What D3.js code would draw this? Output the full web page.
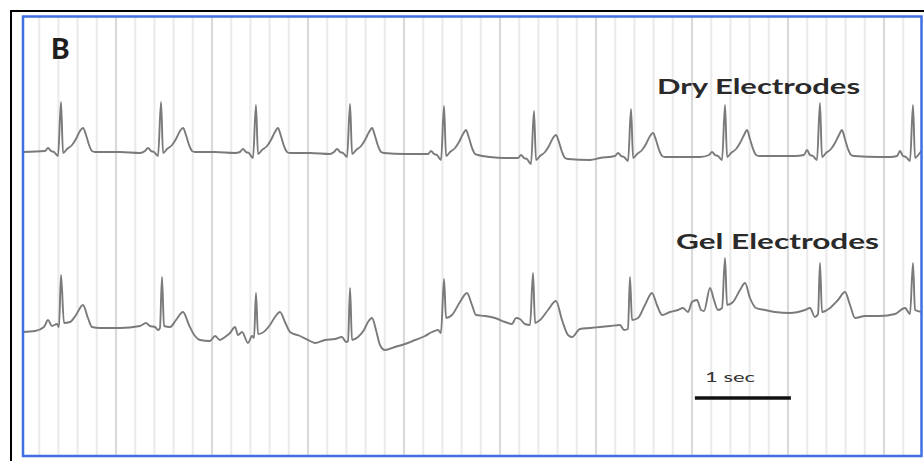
<!DOCTYPE html>
<html>
<head>
<meta charset="utf-8">
<script src="https://cdn.jsdelivr.net/npm/d3@7"></script>
<style>
  html, body { margin: 0; padding: 0; background: #fff; }
  svg { display: block; }
</style>
</head>
<body>
<svg id="chart" width="924" height="461"></svg>
<script>
// ---------- Data (time in s, amplitude in mV) ----------
const PANEL_LABEL = "B";
const TRACE_LABELS = ["Dry Electrodes", "Gel Electrodes"];
const SCALE_BAR = { start: 7.03, length: 1, label: "1 sec" };
const GRID_STEP = 0.2;      // s per small box
const GRID_END = 9.2;

const dryTrace = [
  [0.031,0.02],
  [0.260,0.04],[0.292,0.10],[0.323,0.04],[0.354,0.02],[0.396,-0.06],[0.427,1.02],[0.448,0.00],[0.490,0.08],[0.542,0.16],[0.583,0.28],[0.625,0.44],[0.656,0.50],[0.688,0.36],[0.719,0.16],[0.750,0.04],[0.781,0.02],
  [1.042,0.02],[1.250,0.00],
  [1.302,0.04],[1.334,0.10],[1.365,0.04],[1.396,0.02],[1.438,-0.06],[1.469,1.02],[1.490,0.00],[1.532,0.08],[1.584,0.16],[1.625,0.28],[1.667,0.44],[1.698,0.50],[1.729,0.36],[1.761,0.16],[1.792,0.04],[1.823,0.02],
  [2.031,0.02],[2.240,0.00],
  [2.291,0.02],[2.323,0.08],[2.354,0.02],[2.385,0.00],[2.427,-0.10],[2.458,0.96],[2.479,-0.02],[2.521,0.06],[2.573,0.14],[2.614,0.26],[2.656,0.42],[2.687,0.50],[2.718,0.34],[2.750,0.14],[2.781,0.02],[2.812,0.00],
  [3.021,0.00],[3.229,-0.02],
  [3.271,0.02],[3.303,0.08],[3.334,0.02],[3.365,0.00],[3.407,-0.08],[3.438,0.98],[3.459,-0.02],[3.501,0.06],[3.553,0.14],[3.594,0.26],[3.636,0.42],[3.667,0.50],[3.698,0.34],[3.730,0.14],[3.761,0.02],[3.792,0.00],
  [4.010,-0.02],[4.167,-0.02],
  [4.250,-0.02],[4.282,0.04],[4.313,-0.02],[4.344,-0.04],[4.386,-0.14],[4.417,0.94],[4.438,-0.06],[4.480,0.02],[4.532,0.10],[4.573,0.22],[4.615,0.38],[4.646,0.46],[4.677,0.30],[4.709,0.10],[4.740,-0.02],[4.771,-0.04],
  [4.896,-0.08],[5.052,-0.10],
  [5.187,-0.10],[5.219,-0.04],[5.250,-0.10],[5.281,-0.12],[5.323,-0.22],[5.354,0.84],[5.375,-0.14],[5.417,-0.06],[5.469,0.02],[5.510,0.14],[5.552,0.30],[5.583,0.36],[5.614,0.22],[5.646,0.02],[5.677,-0.10],[5.708,-0.12],
  [5.938,-0.14],[6.042,-0.10],
  [6.198,-0.06],[6.230,0.00],[6.261,-0.06],[6.292,-0.08],[6.334,-0.16],[6.365,0.88],[6.386,-0.10],[6.428,-0.02],[6.480,0.06],[6.521,0.18],[6.563,0.34],[6.594,0.40],[6.625,0.26],[6.657,0.06],[6.688,-0.06],[6.719,-0.08],
  [6.979,-0.08],[7.083,-0.08],
  [7.177,-0.04],[7.209,0.02],[7.240,-0.04],[7.271,-0.06],[7.313,-0.14],[7.344,0.96],[7.365,-0.08],[7.407,0.00],[7.459,0.08],[7.500,0.20],[7.542,0.36],[7.573,0.46],[7.604,0.28],[7.636,0.08],[7.667,-0.04],[7.698,-0.06],
  [7.969,-0.06],[8.073,-0.06],
  [8.166,-0.04],[8.198,0.06],[8.229,-0.04],[8.260,-0.06],[8.302,-0.14],[8.333,1.00],[8.354,-0.08],[8.396,0.00],[8.448,0.08],[8.489,0.20],[8.531,0.36],[8.562,0.46],[8.593,0.28],[8.625,0.08],[8.656,-0.04],[8.687,-0.06],
  [8.958,-0.08],[9.063,-0.08],
  [9.135,-0.06],[9.167,0.04],[9.198,-0.06],[9.229,-0.08],[9.271,-0.16],[9.302,0.96],[9.323,-0.10],[9.365,-0.02],[9.396,0.06]
];

const gelTrace = [
  [0.031,-0.04],[0.156,-0.02],[0.250,0.06],[0.292,0.20],[0.333,0.08],[0.385,0.12],[0.406,0.06],[0.427,1.10],[0.458,0.14],
  [0.521,0.16],[0.583,0.30],[0.656,0.50],[0.708,0.24],[0.750,0.06],[0.833,0.04],[1.042,0.04],[1.250,0.08],[1.313,0.14],
  [1.354,0.08],[1.406,0.06],[1.438,0.00],[1.458,0.04],[1.479,1.06],[1.500,0.08],[1.563,0.06],[1.625,0.20],[1.698,0.36],
  [1.760,0.10],[1.823,-0.12],[1.875,-0.20],[1.979,-0.22],[2.031,-0.12],[2.083,-0.20],[2.135,-0.14],[2.188,-0.06],
  [2.240,0.06],[2.271,-0.10],[2.313,-0.04],[2.375,-0.26],[2.417,-0.12],[2.438,-0.16],[2.458,0.74],[2.479,-0.08],
  [2.521,-0.06],[2.604,0.10],[2.656,0.26],[2.708,0.36],[2.760,0.16],[2.813,-0.04],[2.917,-0.12],[3.021,-0.22],
  [3.073,-0.26],[3.177,-0.20],[3.281,-0.18],[3.354,-0.14],[3.396,-0.24],[3.417,-0.22],[3.438,0.84],[3.458,-0.20],
  [3.521,-0.14],[3.583,0.00],[3.625,0.16],[3.667,0.24],[3.708,0.00],[3.750,-0.30],[3.802,-0.40],[3.906,-0.34],
  [4.010,-0.28],[4.115,-0.20],[4.219,-0.12],[4.292,-0.04],[4.354,0.00],[4.385,-0.06],[4.417,1.02],[4.438,0.24],
  [4.500,0.30],[4.583,0.56],[4.656,0.74],[4.708,0.50],[4.750,0.30],[4.844,0.28],[4.948,0.24],[5.052,0.16],[5.125,0.12],
  [5.167,0.24],[5.208,0.22],[5.260,0.12],[5.313,0.10],[5.344,1.14],[5.365,0.14],[5.417,0.20],[5.500,0.40],[5.583,0.58],
  [5.646,0.20],[5.708,-0.10],[5.750,-0.14],[5.833,0.02],[5.938,0.04],[6.042,0.06],[6.146,0.08],[6.250,0.10],[6.292,0.00],
  [6.333,0.02],[6.354,1.06],[6.375,0.20],[6.438,0.24],[6.510,0.50],[6.583,0.74],[6.635,0.50],[6.688,0.30],[6.771,0.36],
  [6.854,0.40],[6.906,0.44],[6.958,0.36],[7.000,0.56],[7.052,0.60],[7.094,0.40],[7.125,0.38],[7.188,0.84],[7.229,0.60],
  [7.271,0.40],[7.313,0.44],[7.344,1.44],[7.365,0.50],[7.427,0.56],[7.500,0.80],[7.552,0.94],[7.604,0.64],[7.667,0.44],
  [7.760,0.40],[7.865,0.36],[8.021,0.34],[8.177,0.40],[8.229,0.44],[8.281,0.26],[8.313,0.32],[8.333,1.34],[8.354,0.36],
  [8.438,0.44],[8.521,0.60],[8.594,0.76],[8.646,0.50],[8.698,0.24],[8.802,0.28],[8.958,0.28],[9.115,0.32],[9.219,0.44],
  [9.271,0.32],[9.302,1.34],[9.323,0.40],[9.396,0.36]
];

// ---------- Layout ----------
const W = 924, H = 461;
const panel = { left: 23, top: 16.5, right: 921.5, bottom: 456 };

const svg = d3.select("#chart");

const x = d3.scaleLinear().domain([0, 9.5]).range([20, 20 + 9.5 * 96]);
const yDry = d3.scaleLinear().domain([0, 1]).range([153, 103]);
const yGel = d3.scaleLinear().domain([0, 1]).range([330, 280]);

// white background + outer black frame
svg.append("rect").attr("width", W).attr("height", H).attr("fill", "#fff");
svg.append("rect")
  .attr("x", 11).attr("y", 11)
  .attr("width", W).attr("height", H)
  .attr("fill", "none").attr("stroke", "#000").attr("stroke-width", 2);

svg.append("clipPath").attr("id", "panel-clip")
  .append("rect")
    .attr("x", panel.left).attr("y", panel.top)
    .attr("width", panel.right - panel.left)
    .attr("height", panel.bottom - panel.top);

const plot = svg.append("g").attr("clip-path", "url(#panel-clip)");

// ECG paper grid (vertical lines only)
const gridTimes = d3.range(1, Math.round(GRID_END / GRID_STEP) + 1).map(i => ({ i, t: i * GRID_STEP }));
plot.append("g").selectAll("line")
  .data(gridTimes).join("line")
    .attr("x1", d => x(d.t)).attr("x2", d => x(d.t))
    .attr("y1", panel.top).attr("y2", panel.bottom)
    .attr("stroke", d => d.i % 5 === 0 ? "#dadada" : "#ebebeb")
    .attr("stroke-width", 2.2);

// traces
const lineFor = yScale => d3.line()
  .x(d => x(d[0]))
  .y(d => yScale(d[1]))
  .curve(d3.curveMonotoneX);

[[dryTrace, yDry], [gelTrace, yGel]].forEach(([data, yScale]) => {
  plot.append("path")
    .datum(data)
    .attr("d", lineFor(yScale))
    .attr("fill", "none").attr("stroke", "#7a7a7a").attr("stroke-width", 1.9)
    .attr("stroke-linejoin", "round");
});

// blue panel frame
svg.append("rect")
  .attr("x", panel.left).attr("y", panel.top)
  .attr("width", panel.right - panel.left)
  .attr("height", panel.bottom - panel.top)
  .attr("fill", "none").attr("stroke", "#3f6fe0").attr("stroke-width", 2.5);

// labels
svg.append("text")
  .attr("x", 51).attr("y", 59)
  .attr("font-family", "Lato, 'Open Sans', sans-serif")
  .attr("font-weight", 900).attr("font-size", 28)
  .attr("fill", "#1e1e1e")
  .text(PANEL_LABEL);

const labelPos = [{ x: 657, y: 94 }, { x: 676, y: 249 }];
svg.append("g").selectAll("text")
  .data(TRACE_LABELS).join("text")
    .attr("x", (d, i) => labelPos[i].x).attr("y", (d, i) => labelPos[i].y)
    .attr("font-family", "Lato, 'Open Sans', sans-serif")
    .attr("font-weight", 700).attr("font-size", 21)
    .attr("textLength", 203).attr("lengthAdjust", "spacingAndGlyphs")
    .attr("fill", "#2a2a2a")
    .text(d => d);

// scale bar
svg.append("line")
  .attr("x1", x(SCALE_BAR.start)).attr("x2", x(SCALE_BAR.start + SCALE_BAR.length))
  .attr("y1", 398).attr("y2", 398)
  .attr("stroke", "#111").attr("stroke-width", 3.5);

svg.append("text")
  .attr("x", 705).attr("y", 382)
  .attr("font-family", "Lato, 'Open Sans', sans-serif")
  .attr("font-size", 14)
  .attr("textLength", 50).attr("lengthAdjust", "spacingAndGlyphs")
  .attr("fill", "#333")
  .text(SCALE_BAR.label);
</script>
</body>
</html>
